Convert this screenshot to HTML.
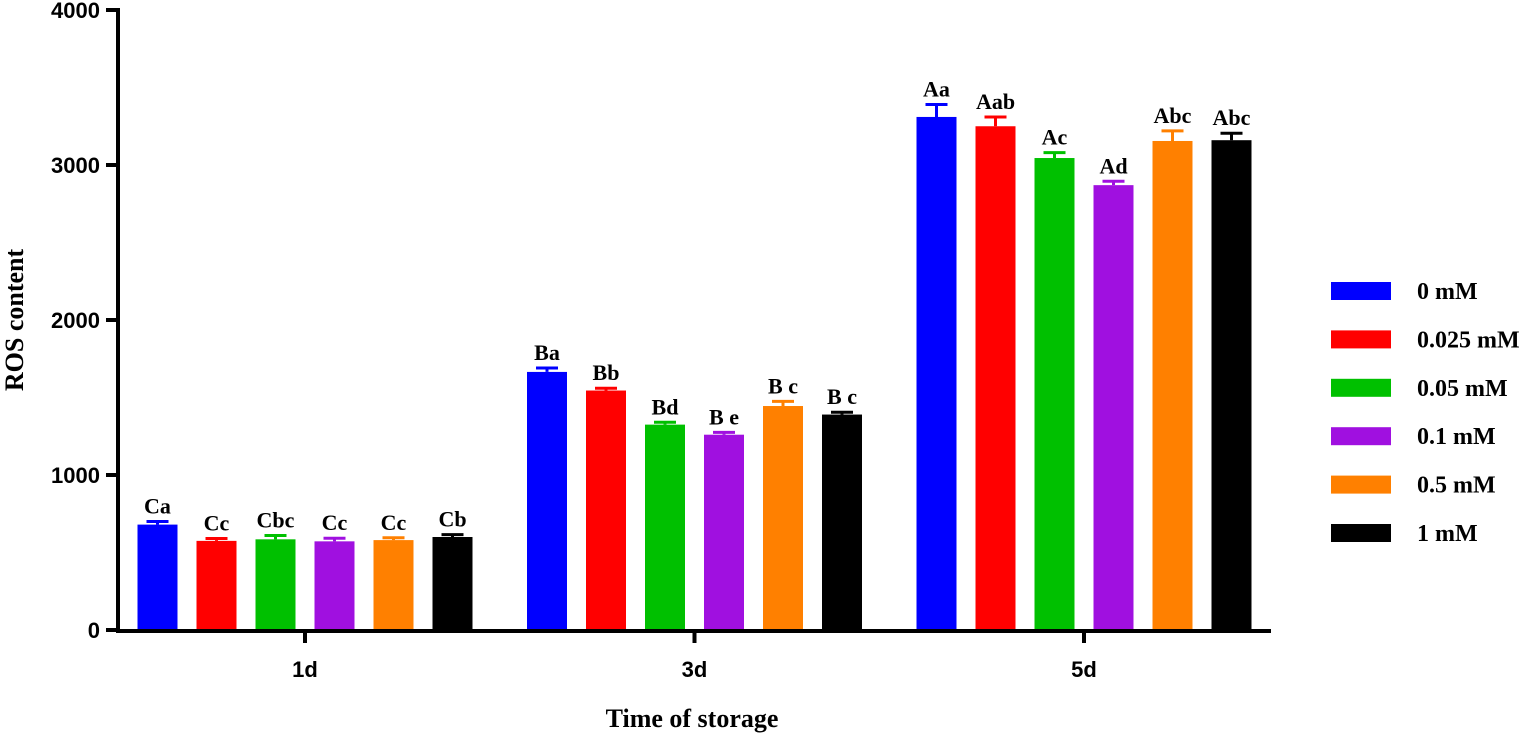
<!DOCTYPE html>
<html><head><meta charset="utf-8"><style>
body{margin:0;background:#fff;}
svg{display:block;}
.tick{font-family:"Liberation Sans",sans-serif;font-weight:bold;font-size:22px;}
.ser{font-family:"Liberation Serif",serif;font-weight:bold;}
</style></head><body>
<svg id="chart" width="1523" height="734" viewBox="0 0 1523 734" xmlns="http://www.w3.org/2000/svg"></svg>
<script>
const categories=["1d","3d","5d"];
const seriesNames=["0 mM","0.025 mM","0.05 mM","0.1 mM","0.5 mM","1 mM"];
const colors=["#0000ff","#ff0000","#00c000","#a010e0","#ff8000","#000000"];
const v0=[680,1665,3310];
const v1=[575,1545,3250];
const v2=[585,1325,3045];
const v3=[572,1260,2870];
const v4=[580,1445,3155];
const v5=[600,1390,3160];
const e0=[20,25,80];
const e1=[15,15,60];
const e2=[25,15,35];
const e3=[20,15,25];
const e4=[15,30,65];
const e5=[15,15,45];
const l0=["Ca","Ba","Aa"];
const l1=["Cc","Bb","Aab"];
const l2=["Cbc","Bd","Ac"];
const l3=["Cc","B e","Ad"];
const l4=["Cc","B c","Abc"];
const l5=["Cb","B c","Abc"];
const yTicks=[0,1000,2000,3000,4000];
const values=[v0,v1,v2,v3,v4,v5],errs=[e0,e1,e2,e3,e4,e5],labs=[l0,l1,l2,l3,l4,l5];
const NS="http://www.w3.org/2000/svg";
const svg=document.getElementById('chart');
function y(v){return 630-v*0.155;}
function gx(i){return 305+i*389.5;}
function bx(g,s){return gx(g)+(s-2.5)*59;}
function mk(t,a,txt){const e=document.createElementNS(NS,t);for(const k in a)e.setAttribute(k,a[k]);if(txt!==undefined)e.textContent=txt;svg.appendChild(e);return e;}
const bw=40;
values.forEach((arr,s)=>{arr.forEach((v,g)=>{
 const cx=bx(g,s);
 const top=y(v+errs[s][g]);
 const eb=mk('path',{d:`M${cx} ${y(v)}V${top}M${cx-11} ${top}H${cx+11}`,stroke:colors[s],'stroke-width':3,fill:'none'});
 
 
 const r=mk('rect',{x:cx-bw/2,y:y(v),width:bw,height:630-y(v),fill:colors[s]});
 
 
 const t=mk('text',{x:cx,y:top-8,'text-anchor':'middle','font-size':22,class:'ser'},labs[s][g]);
 
 
});});
const ax=mk('path',{d:'M118 8V631H1271',stroke:'#000','stroke-width':4,fill:'none'});


yTicks.forEach(t=>{
 const l=mk('path',{d:`M106 ${y(t)}H118`,stroke:'#000','stroke-width':4});
 
 
 const tx=mk('text',{x:100,y:y(t)+8,'text-anchor':'end',class:'tick'},String(t));
 
 
});
categories.forEach((c,g)=>{
 const l=mk('path',{d:`M${gx(g)} 631V643`,stroke:'#000','stroke-width':4});
 
 
 const tx=mk('text',{x:gx(g),y:677,'text-anchor':'middle',class:'tick'},c);
 
 
});
const xt=mk('text',{x:692,y:727,'text-anchor':'middle','font-size':26,class:'ser'},'Time of storage');


const yt=mk('text',{x:0,y:0,'text-anchor':'middle','font-size':26,class:'ser',transform:'translate(23,320) rotate(-90)'},'ROS content');


seriesNames.forEach((n,s)=>{
 const cy=291+s*48.4;
 const r=mk('rect',{x:1331,y:cy-9,width:60,height:18,fill:colors[s]});
 
 
 const t=mk('text',{x:1417,y:cy+8,'font-size':24,class:'ser'},n);
 
 
});
</script>
</body></html>
